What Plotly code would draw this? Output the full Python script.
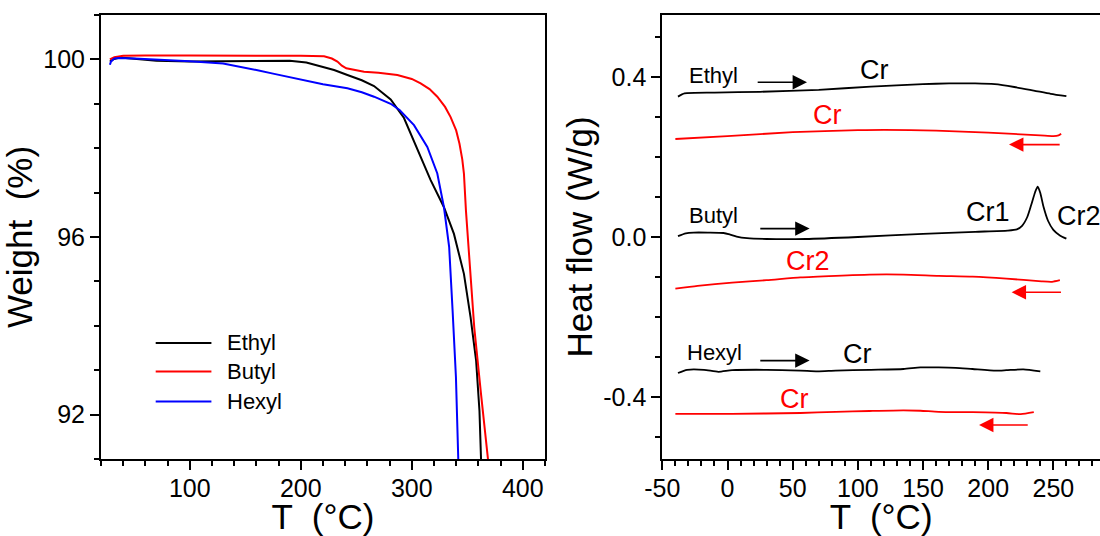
import plotly.graph_objects as go

# ---------------- TGA (left panel) ----------------
tga_ethyl_t = [28, 31, 37, 50, 70, 100, 130, 160, 190, 205, 215, 230, 242, 255, 266, 281,
               293, 305, 317, 329, 338, 347, 353, 358, 361, 362.4, 362.7]
tga_ethyl_w = [99.95, 100.0, 100.04, 100.01, 99.97, 99.95, 99.96, 99.97, 99.97, 99.93, 99.86,
               99.76, 99.65, 99.53, 99.40, 99.10, 98.68, 97.99, 97.28, 96.67, 96.07, 95.17,
               94.19, 93.21, 92.08, 91.0, 90.8]

tga_butyl_t = [28, 32, 40, 60, 100, 130, 133, 160, 200, 221, 228, 233, 237, 241, 250, 257,
               270, 287, 300, 308, 316, 323, 330, 335, 340, 343, 345.5, 347, 348.8, 351.8,
               356.3, 362.4, 369, 369.5]
tga_butyl_w = [100.0, 100.05, 100.08, 100.09, 100.09, 100.09, 100.08, 100.08, 100.08, 100.07,
               100.02, 99.95, 99.86, 99.80, 99.75, 99.72, 99.70, 99.65, 99.56, 99.46, 99.33,
               99.16, 98.93, 98.70, 98.40, 98.10, 97.75, 97.43, 96.6, 95.47, 93.96, 92.46,
               91.0, 90.8]

tga_hexyl_t = [28, 29, 32, 36, 50, 70, 100, 130, 145, 160, 175, 190, 205, 220, 242, 255, 266,
               281, 289, 302, 314, 323, 329, 333.7, 336.8, 339.8, 341.9, 342.1]
tga_hexyl_w = [99.88, 99.95, 100.02, 100.03, 100.02, 100.0, 99.96, 99.91, 99.84, 99.76, 99.68,
               99.60, 99.51, 99.44, 99.35, 99.26, 99.16, 99.0, 98.86, 98.52, 98.03, 97.43,
               96.67, 95.77, 94.34, 92.84, 91.0, 90.8]

tga_xticks = [100, 200, 300, 400]
tga_yticks = [92, 96, 100]

# ---------------- DSC (right panel) ----------------
dsc_ethyl_heat_t = [-38, -33, -10, 25, 70, 110, 150, 170, 190, 205, 220, 235, 248, 260]
dsc_ethyl_heat_hf = [0.351, 0.359, 0.361, 0.363, 0.368, 0.376, 0.382, 0.384, 0.384, 0.382,
                     0.375, 0.366, 0.358, 0.352]
dsc_ethyl_cool_t = [-40, 0, 50, 100, 120, 160, 200, 240, 250, 254, 256]
dsc_ethyl_cool_hf = [0.245, 0.252, 0.262, 0.267, 0.268, 0.266, 0.261, 0.254, 0.252, 0.254, 0.258]

dsc_butyl_heat_t = [-38, -32, -26, -15, -3, 2, 7, 15, 30, 60, 100, 150, 190, 215, 222, 226,
                    230, 233, 236, 238, 240, 242.5, 246, 250, 255, 260]
dsc_butyl_heat_hf = [0.002, 0.009, 0.011, 0.011, 0.010, 0.006, 0.001, -0.003, -0.005, -0.005,
                     0.000, 0.008, 0.013, 0.016, 0.019, 0.028, 0.05, 0.08, 0.112, 0.126, 0.11,
                     0.075, 0.04, 0.018, 0.004, -0.004]
dsc_butyl_cool_t = [-40, -23, 3.5, 30, 56, 83, 109, 135, 162, 188, 214, 241, 249, 255]
dsc_butyl_cool_hf = [-0.129, -0.122, -0.114, -0.108, -0.101, -0.097, -0.094, -0.094, -0.097,
                     -0.099, -0.104, -0.111, -0.112, -0.108]

dsc_hexyl_heat_t = [-38, -31, -18, -7, 3.5, 30, 56, 69, 83, 109, 135, 148, 162, 175, 188, 206,
                    214, 227, 240]
dsc_hexyl_heat_hf = [-0.340, -0.332, -0.332, -0.337, -0.333, -0.332, -0.334, -0.336, -0.334,
                     -0.332, -0.330, -0.326, -0.326, -0.327, -0.330, -0.334, -0.333, -0.331,
                     -0.336]
dsc_hexyl_cool_t = [-40, 3.5, 56, 83, 109, 135, 148, 162, 188, 214, 225, 235]
dsc_hexyl_cool_hf = [-0.442, -0.442, -0.440, -0.437, -0.435, -0.4335, -0.4344, -0.437, -0.438,
                     -0.440, -0.443, -0.438]

dsc_xticks = [-50, 0, 50, 100, 150, 200, 250]
dsc_xticktext = ["-50", "0", "50", "100", "150", "200", "250"]
dsc_yticks = [-0.4, 0.0, 0.4]
dsc_yticktext = ["-0.4", "0.0", "0.4"]

BLACK = "#000000"
RED = "#ff0000"
BLUE = "#0000ff"
FONT = "Liberation Sans, Arial, sans-serif"

fig = go.Figure()

# TGA curves
for t, w, name, color in [
    (tga_ethyl_t, tga_ethyl_w, "Ethyl", BLACK),
    (tga_butyl_t, tga_butyl_w, "Butyl", RED),
    (tga_hexyl_t, tga_hexyl_w, "Hexyl", BLUE),
]:
    fig.add_trace(go.Scatter(x=t, y=w, mode="lines", name=name, showlegend=False,
                             line=dict(color=color, width=2), xaxis="x", yaxis="y"))

# DSC curves: heating in black, cooling in red
for t, hf, name, color in [
    (dsc_ethyl_heat_t, dsc_ethyl_heat_hf, "Ethyl heating", BLACK),
    (dsc_ethyl_cool_t, dsc_ethyl_cool_hf, "Ethyl cooling", RED),
    (dsc_butyl_heat_t, dsc_butyl_heat_hf, "Butyl heating", BLACK),
    (dsc_butyl_cool_t, dsc_butyl_cool_hf, "Butyl cooling", RED),
    (dsc_hexyl_heat_t, dsc_hexyl_heat_hf, "Hexyl heating", BLACK),
    (dsc_hexyl_cool_t, dsc_hexyl_cool_hf, "Hexyl cooling", RED),
]:
    fig.add_trace(go.Scatter(x=t, y=hf, mode="lines", name=name, showlegend=False,
                             line=dict(color=color, width=1.8, shape="spline", smoothing=0.6),
                             xaxis="x2", yaxis="y2"))

axis_base = dict(
    showline=True, linecolor=BLACK, linewidth=2,
    ticks="outside", ticklen=9, tickwidth=2, tickcolor=BLACK,
    tickfont=dict(family=FONT, size=25, color=BLACK),
    showgrid=False, zeroline=False, automargin=False,
)
minor_base = dict(ticks="outside", ticklen=5, tickwidth=1.5, tickcolor=BLACK, showgrid=False)
title_font = dict(family=FONT, size=35, color=BLACK)

fig.update_layout(
    width=1100, height=536,
    margin=dict(l=101, r=0, t=15, b=77),
    paper_bgcolor="white", plot_bgcolor="white",
    font=dict(family=FONT, color=BLACK),
    showlegend=False,
    xaxis=dict(axis_base, domain=[0, 0.4444], range=[20, 420], anchor="y", mirror=True,
               tickmode="array", tickvals=tga_xticks, ticklabelstandoff=-3,
               minor=dict(minor_base, dtick=20, tick0=0),
               title=dict(text="T \u00a0(°C)", font=title_font, standoff=5)),
    yaxis=dict(axis_base, domain=[0, 1], range=[91, 101], anchor="x", mirror=True,
               tickmode="array", tickvals=tga_yticks,
               minor=dict(minor_base, dtick=1, tick0=0),
               title=dict(text="Weight \u00a0(%)", font=title_font, standoff=0)),
    xaxis2=dict(axis_base, domain=[0.5619, 1], range=[-50, 285.8], anchor="y2", mirror=True,
                tickmode="array", tickvals=dsc_xticks, ticktext=dsc_xticktext,
                ticklabelstandoff=-3,
                minor=dict(minor_base, dtick=10, tick0=0),
                title=dict(text="T \u00a0(°C)", font=title_font, standoff=5)),
    yaxis2=dict(axis_base, domain=[0, 1], range=[-0.555, 0.555], anchor="x2", mirror=False,
                tickmode="array", tickvals=dsc_yticks, ticktext=dsc_yticktext,
                minor=dict(minor_base, dtick=0.1, tick0=0),
                title=dict(text="Heat flow (W/g)", font=title_font, standoff=0)),
)

# Legend of the TGA panel drawn as line samples with labels
legend_rows = [("Ethyl", BLACK, 0.2613), ("Butyl", RED, 0.1971), ("Hexyl", BLUE, 0.1297)]
for label, color, yy in legend_rows:
    fig.add_shape(type="line", xref="x domain", yref="y domain", x0=0.1232, x1=0.2487,
                  y0=yy, y1=yy, line=dict(color=color, width=2))
    fig.add_annotation(xref="x domain", yref="y domain", x=0.280, y=yy, text=label,
                       showarrow=False, xanchor="left", yanchor="middle",
                       font=dict(family=FONT, size=22, color=BLACK))

# DSC sample names and phase labels
dsc_labels = [
    ("Ethyl", -31.2, 0.404, "left", 22, BLACK),
    ("Butyl", -31.3, 0.054, "left", 22, BLACK),
    ("Hexyl", -32.5, -0.288, "left", 22, BLACK),
    ("Cr", 113, 0.418, "center", 27, BLACK),
    ("Cr", 76.4, 0.304, "center", 27, RED),
    ("Cr1", 200, 0.062, "center", 27, BLACK),
    ("Cr2", 251, 0.053, "left", 27, BLACK),
    ("Cr2", 61.6, -0.060, "center", 27, RED),
    ("Cr", 100, -0.2935, "center", 27, BLACK),
    ("Cr", 51.5, -0.405, "center", 27, RED),
]
for text, xx, yy, xanchor, size, color in dsc_labels:
    fig.add_annotation(xref="x2", yref="y2", x=xx, y=yy, text=text, showarrow=False,
                       xanchor=xanchor, yanchor="middle",
                       font=dict(family=FONT, size=size, color=color))

# Heating / cooling direction arrows (tail -> head)
dsc_arrows = [
    (22, 61, 0.387, BLACK),
    (24, 63, 0.021, BLACK),
    (24, 63, -0.309, BLACK),
    (256, 216, 0.231, RED),
    (257, 218, -0.138, RED),
    (231.5, 193, -0.470, RED),
]
for t0, t1, yy, color in dsc_arrows:
    fig.add_annotation(xref="x2", yref="y2", axref="x2", ayref="y2",
                       x=t1, y=yy, ax=t0, ay=yy, text="", showarrow=True,
                       arrowhead=2, arrowsize=1.8, arrowwidth=1.6, arrowcolor=color)

fig.write_html("out.html")
